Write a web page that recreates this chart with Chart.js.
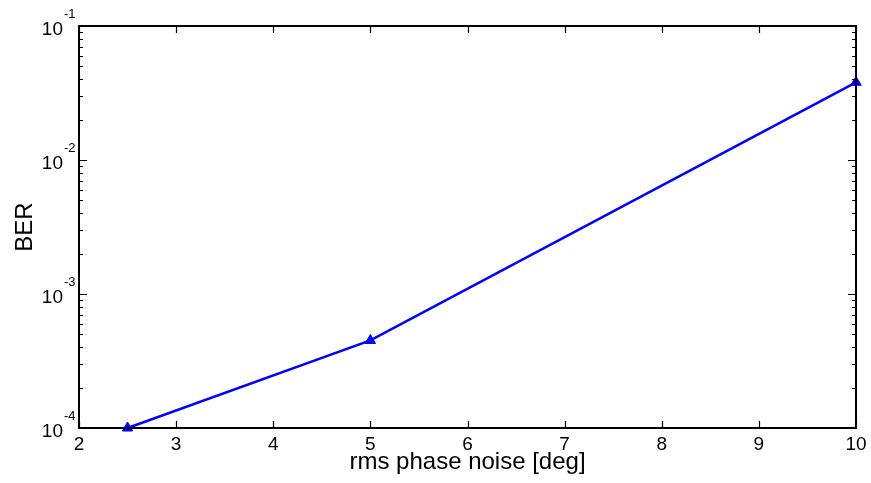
<!DOCTYPE html>
<html>
<head>
<meta charset="utf-8">
<script src="https://cdn.jsdelivr.net/npm/chart.js@4/dist/chart.umd.min.js"></script>
<style>
  html, body { margin: 0; padding: 0; background: #fff; }
  #wrap { width: 871px; height: 483px; }
</style>
</head>
<body>
<div id="wrap"><canvas id="myChart" width="871" height="483"></canvas></div>
<script>
// rms phase noise (deg) vs bit error rate
const phaseNoise = [2.5, 5, 10];
const berValues = [1e-4, 4.5e-4, 3.8e-2];
const xTicks = [2, 3, 4, 5, 6, 7, 8, 9, 10];
const yExponents = [-4, -3, -2, -1];

const FONT = "Liberation Sans, Arial, Helvetica, sans-serif";

// frame, inward ticks and 10^n labels, drawn by hand (matlab style)
const framePlugin = {
  id: "frame",
  afterDraw(chart) {
    const { ctx, chartArea: a, scales } = chart;
    const xs = scales.x, ys = scales.y;
    ctx.save();
    ctx.strokeStyle = "#000";
    ctx.lineWidth = 1.2;
    ctx.beginPath();
    xTicks.forEach((v) => {
      const px = Math.round(xs.getPixelForValue(v)) + 0.5;
      ctx.moveTo(px, a.bottom); ctx.lineTo(px, a.bottom - 7);
      ctx.moveTo(px, a.top); ctx.lineTo(px, a.top + 7);
    });
    yExponents.forEach((e, i) => {
      const py = Math.round(ys.getPixelForValue(Math.pow(10, e))) + 0.5;
      ctx.moveTo(a.left, py); ctx.lineTo(a.left + 8, py);
      ctx.moveTo(a.right, py); ctx.lineTo(a.right - 8, py);
      if (i < yExponents.length - 1) {
        for (let m = 2; m <= 9; m++) {
          const my = Math.round(ys.getPixelForValue(m * Math.pow(10, e))) + 0.5;
          ctx.moveTo(a.left, my); ctx.lineTo(a.left + 4, my);
          ctx.moveTo(a.right, my); ctx.lineTo(a.right - 4, my);
        }
      }
    });
    ctx.stroke();

    ctx.lineWidth = 2;
    ctx.strokeRect(Math.round(a.left), Math.round(a.top), Math.round(a.right - a.left), Math.round(a.bottom - a.top));

    ctx.fillStyle = "#000";
    ctx.font = "19px " + FONT;
    ctx.textAlign = "center";
    ctx.textBaseline = "alphabetic";
    xTicks.forEach((v) => {
      ctx.fillText(String(v), xs.getPixelForValue(v), a.bottom + 22);
    });

    yExponents.forEach((e) => {
      const py = ys.getPixelForValue(Math.pow(10, e));
      ctx.font = "19px " + FONT;
      ctx.textAlign = "right";
      ctx.fillText("10", a.left - 16, py + 9);
      ctx.font = "13px " + FONT;
      ctx.textAlign = "left";
      ctx.fillText(String(e), a.left - 15, py - 8);
    });

    ctx.font = "24px " + FONT;
    ctx.textAlign = "center";
    ctx.fillText("rms phase noise [deg]", (a.left + a.right) / 2, a.bottom + 41);

    ctx.translate(32, (a.top + a.bottom) / 2);
    ctx.rotate(-Math.PI / 2);
    ctx.fillText("BER", 0, 0);
    ctx.restore();
  },
};

new Chart(document.getElementById("myChart"), {
  type: "line",
  data: {
    datasets: [
      {
        data: phaseNoise.map((x, i) => ({ x: x, y: berValues[i] })),
        borderColor: "#0000ff",
        backgroundColor: "#0000ff",
        borderWidth: 2.5,
        pointStyle: "triangle",
        pointRadius: 6,
        pointBorderWidth: 1,
        pointBorderColor: "#0000ff",
        pointBackgroundColor: "#0000ff",
        clip: false,
        tension: 0,
      },
    ],
  },
  options: {
    responsive: false,
    animation: false,
    layout: { padding: { left: 79, right: 15, top: 26, bottom: 55 } },
    plugins: { legend: { display: false }, tooltip: { enabled: false } },
    scales: {
      x: {
        type: "linear",
        min: 2,
        max: 10,
        grid: { display: false },
        border: { display: false },
        ticks: { display: false },
        afterFit: (s) => { s.height = 0; },
      },
      y: {
        type: "logarithmic",
        min: 1e-4,
        max: 1e-1,
        grid: { display: false },
        border: { display: false },
        ticks: { display: false },
        afterFit: (s) => { s.width = 0; },
      },
    },
  },
  plugins: [framePlugin],
});
</script>
</body>
</html>
